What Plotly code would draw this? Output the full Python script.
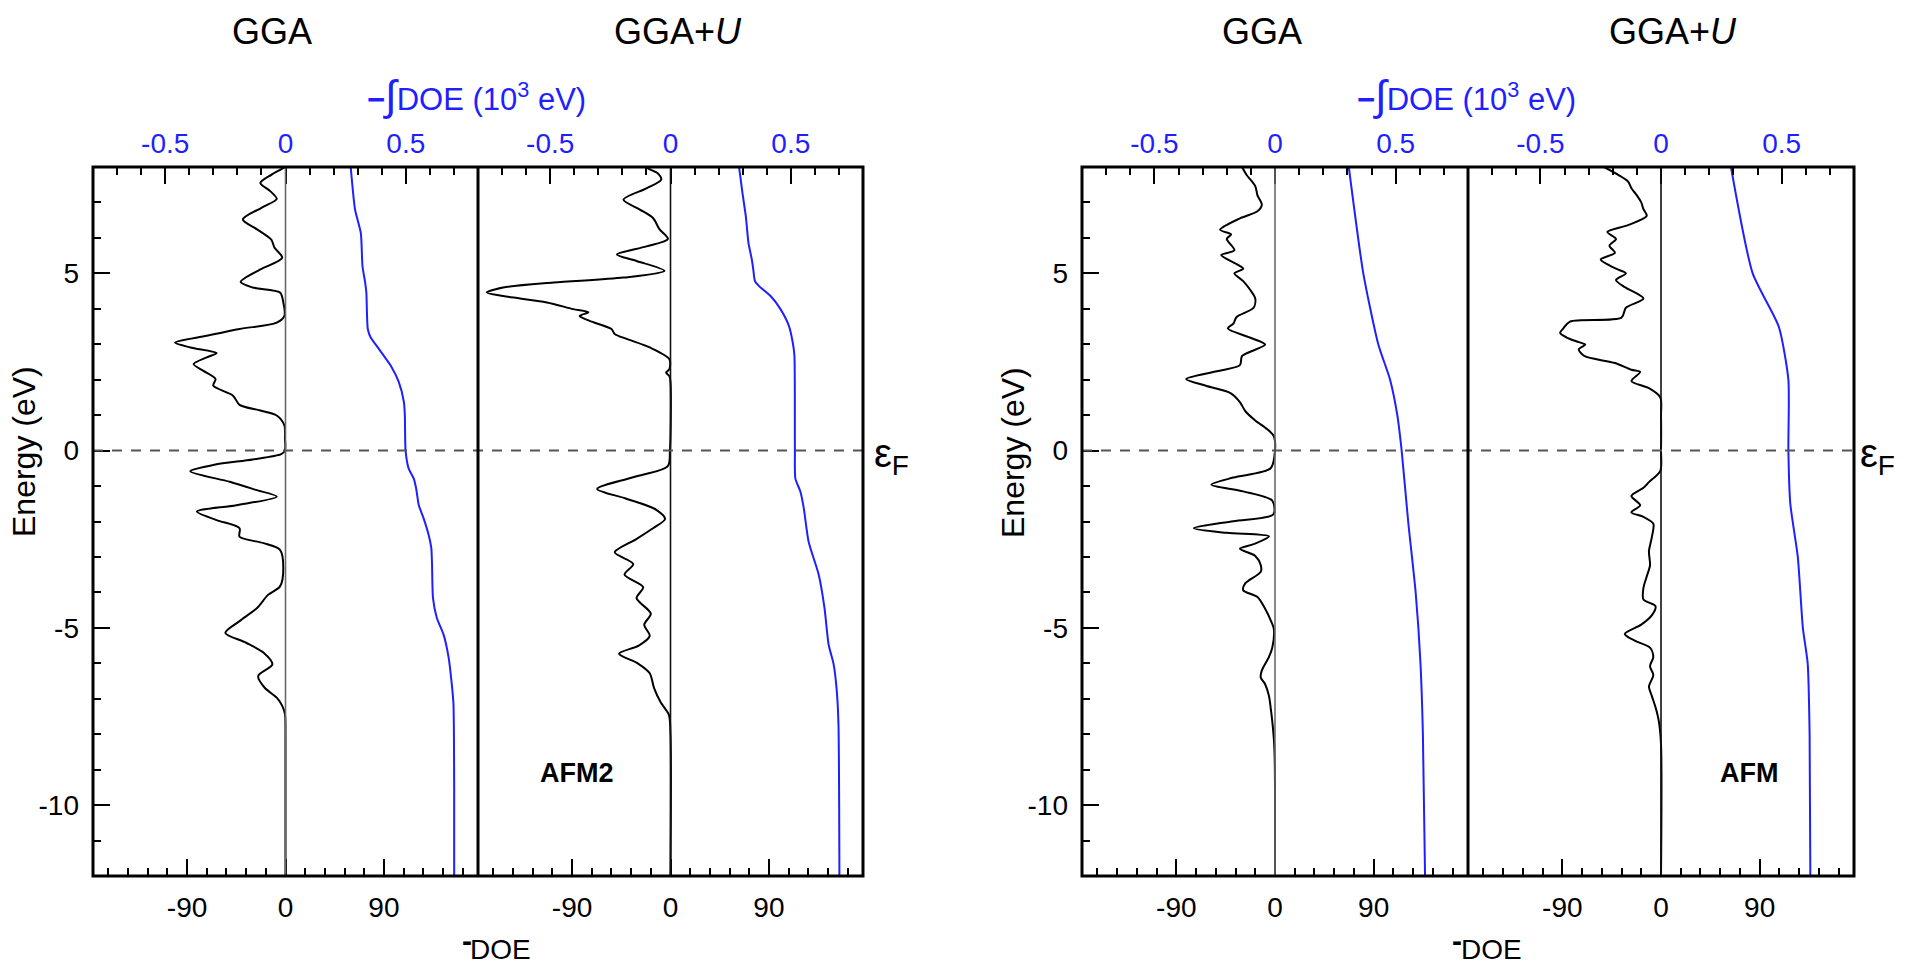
import plotly.graph_objects as go

# ---------------- data ----------------
# Group 1 (AFM2), GGA: -DOE vs energy
e_afm2_gga = [8.0, 7.97, 7.78, 7.55, 7.32, 7.1, 6.85, 6.52, 6.24, 5.95, 5.72, 5.44, 5.11, 4.76, 4.6, 4.46,
              4.18, 3.8, 3.61, 3.43, 3.24, 3.05, 2.91, 2.75, 2.63, 2.44, 2.25, 2.02, 1.83, 1.55, 1.29, 1.13,
              0.99, 0.71, 0.34, 0.0, -0.1, -0.25, -0.4, -0.58, -0.88, -1.1, -1.3, -1.54, -1.72, -1.96, -2.19,
              -2.43, -2.61, -2.8, -3.31, -3.83, -4.07, -4.44, -4.81, -5.14, -5.42, -5.7, -6.03, -6.36, -6.69,
              -6.97, -7.2, -7.43, -8.0, -12.0]
doe_afm2_gga = [-1, -2, -13, -23, -14, -8, -22, -39, -26, -13, -10, -3, -23, -41, -30, -5,
                -2, -1, -8, -42, -72, -101, -87, -63, -72, -84, -75, -64, -66, -48, -42, -23,
                -8, -1, -0.5, -0.5, -4, -30, -65, -87, -51, -28, -8, -45, -81, -63, -42,
                -42, -20, -5, -2, -5, -16, -26, -42, -55, -36, -20, -12, -25, -19,
                -8, -3, -0.5, 0, 0]

# Group 1 (AFM2), GGA+U
e_afm2_ggau = [8.0, 7.97, 7.83, 7.64, 7.4, 7.08, 6.8, 6.56, 6.24, 5.97, 5.76, 5.53, 5.35, 5.07, 4.88, 4.74,
               4.6, 4.46, 4.36, 4.18, 3.99, 3.9, 3.8, 3.66, 3.43, 3.29, 3.15, 2.91, 2.58, 2.3, 2.2, 2.1,
               1.93, 0.0, -0.44, -0.76, -1.08, -1.35, -1.67, -1.93, -2.19, -2.51, -2.87, -3.2, -3.5, -3.85,
               -4.16, -4.6, -4.91, -5.23, -5.5, -5.73, -6.0, -6.28, -6.7, -7.1, -7.45, -8.0, -12.0]
doe_afm2_ggau = [-21, -21, -12, -8.5, -22, -43, -28, -16, -10, -2.4, -22, -49, -31, -5.5, -43, -107,
                 -153, -168, -153, -113, -89, -75, -83, -74, -54, -51, -40, -19, -1, -1, -4, -1,
                 0, -0.5, -2.5, -35, -67, -41, -13, -5, -16, -32, -51, -34, -42, -25,
                 -31, -18, -24, -19, -29, -47, -30, -19, -15, -9, -1.5, 0, 0]

# Group 2 (AFM), GGA
e_afm_gga = [8.0, 7.78, 7.46, 7.2, 6.94, 6.75, 6.55, 6.23, 6.1, 5.97, 5.65, 5.52, 5.26, 5.13, 5.0, 4.78,
             4.55, 4.29, 4.03, 3.77, 3.58, 3.45, 3.19, 2.99, 2.67, 2.41, 2.24, 2.02, 1.83, 1.63, 1.37,
             1.11, 0.85, 0.6, 0.4, 0.0, -0.5, -0.76, -0.96, -1.15, -1.41, -1.8, -1.99, -2.19, -2.32,
             -2.42, -2.64, -2.77, -2.97, -3.23, -3.42, -3.74, -3.94, -4.13, -4.46, -4.78, -5.04, -5.56,
             -5.82, -6.2, -6.4, -6.59, -6.92, -7.24, -7.63, -8.15, -8.67, -9.5, -12.0]
doe_afm_gga = [-30, -26, -18, -16, -12, -16, -32, -50, -40, -44, -37, -49, -35, -29, -37, -29,
               -23, -18, -19.5, -35, -38, -43, -23, -9, -30, -32, -53, -81, -63, -41, -32,
               -27, -18, -7, -1, 0, -4, -38, -58, -29, -2.5, -1.5, -38, -74, -44,
               -5.5, -19.5, -32, -18, -13, -13, -27, -29, -16, -9, -4, -1, -2.5,
               -5.5, -12, -13, -9, -5.5, -4, -2.5, -1, -0.3, 0, 0]

# Group 2 (AFM), GGA+U
e_afm_ggau = [8.0, 7.78, 7.59, 7.4, 7.2, 7.0, 6.81, 6.62, 6.36, 6.17, 5.97, 5.78, 5.58, 5.39, 5.13, 5.0,
              4.81, 4.61, 4.29, 4.03, 3.75, 3.64, 3.45, 3.32, 3.19, 3.06, 2.99, 2.86, 2.67, 2.47, 2.28,
              2.22, 1.96, 1.76, 1.5, 1.0, 0.0, -0.57, -0.89, -1.05, -1.28, -1.54, -1.74, -1.87, -2.06,
              -2.45, -2.84, -3.23, -3.55, -3.87, -4.2, -4.39, -4.65, -4.91, -5.17, -5.36, -5.56, -5.82,
              -6.08, -6.33, -6.66, -6.92, -7.24, -7.63, -8.28, -12.0]
doe_afm_ggau = [-52, -39, -30, -27, -22, -18, -16, -13, -30, -49, -41, -47, -42, -55, -41, -32,
                -41, -33, -16, -32, -36, -83, -89, -92, -86, -75, -69, -75, -70, -42, -27,
                -19, -27, -11, -0.6, 0, 0, -0.6, -11, -16, -27, -19, -27, -16, -7,
                -8.4, -11, -10, -13, -16, -16, -5, -8.4, -18, -33, -24, -10, -7,
                -10, -7, -11, -8.4, -5, -2, 0, 0]

# Integrated curves, -∫DOE in 10^3 eV
ei_afm2_gga = [8.0, 6.8, 6.14, 5.2, 4.74, 4.46, 3.43, 3.19, 2.87, 2.4, 1.93, 1.37, 0.99, 0.0, -0.51,
               -0.79, -1.07, -1.54, -1.91, -2.38, -2.75, -3.22, -4.16, -4.72, -5.19, -5.84, -6.59,
               -7.15, -9.5, -12.0]
int_afm2_gga = [0.271, 0.289, 0.313, 0.32, 0.331, 0.336, 0.342, 0.354, 0.388, 0.437, 0.471, 0.492,
                0.496, 0.499, 0.512, 0.533, 0.543, 0.554, 0.574, 0.595, 0.606, 0.609, 0.613, 0.629,
                0.657, 0.678, 0.691, 0.698, 0.701, 0.701]

ei_afm2_ggau = [8.0, 7.27, 6.61, 5.86, 5.39, 5.11, 4.78, 4.64, 4.36, 3.99, 3.52, 3.05, 2.68, 0.0, -0.79,
                -1.16, -1.63, -2.57, -3.5, -4.44, -5.47, -6.03, -6.78, -7.71, -12.0]
int_afm2_ggau = [0.285, 0.299, 0.313, 0.324, 0.338, 0.344, 0.351, 0.368, 0.416, 0.457, 0.492, 0.508,
                 0.515, 0.517, 0.519, 0.54, 0.554, 0.574, 0.616, 0.64, 0.657, 0.678, 0.691, 0.698, 0.702]

ei_afm_gga = [8.0, 5.0, 3.0, 2.0, 1.0, 0.0, -2.0, -4.0, -6.0, -8.0, -12.0]
int_afm_gga = [0.306, 0.366, 0.428, 0.477, 0.507, 0.525, 0.552, 0.583, 0.603, 0.613, 0.622]

ei_afm_ggau = [8.0, 5.0, 3.5, 2.0, 0.0, -1.5, -3.0, -5.0, -6.0, -8.0, -12.0]
int_afm_ggau = [0.29, 0.38, 0.488, 0.528, 0.528, 0.536, 0.567, 0.588, 0.608, 0.616, 0.619]

doe_ticks = [-90, 0, 90]
int_ticks = [-0.5, 0, 0.5]
energy_ticks = [-10, -5, 0, 5]

# ---------------- layout geometry (pixels) ----------------
W, H = 1910, 965
FONT = "Liberation Sans, Arial, Helvetica, sans-serif"
BLUE = "#1f1fff"
TICK_SIZE = 28


def px(x):
    return x / W


def py(y):
    return 1 - y / H


TOP, BOT = 167, 876
panels = [(93, 478), (478, 863), (1082, 1468), (1468, 1854)]
zero_colors = ["#6a6a6a", "#111111", "#6a6a6a", "#111111"]

fig = go.Figure()
layout = dict(
    width=W, height=H, margin=dict(l=0, r=0, t=0, b=0),
    paper_bgcolor="white", plot_bgcolor="white", showlegend=False,
    font=dict(family=FONT, size=26, color="black"),
)

curves = [
    (e_afm2_gga, doe_afm2_gga, ei_afm2_gga, int_afm2_gga),
    (e_afm2_ggau, doe_afm2_ggau, ei_afm2_ggau, int_afm2_ggau),
    (e_afm_gga, doe_afm_gga, ei_afm_gga, int_afm_gga),
    (e_afm_ggau, doe_afm_ggau, ei_afm_ggau, int_afm_ggau),
]

for i, (x0, x1) in enumerate(panels):
    nb = 2 * i + 1          # bottom axis index
    nt = 2 * i + 2          # top axis index
    ya = "y" if i < 2 else "y2"
    bname = "xaxis" if nb == 1 else f"xaxis{nb}"
    tname = f"xaxis{nt}"
    bref = "x" if nb == 1 else f"x{nb}"
    tref = f"x{nt}"
    layout[bname] = dict(
        domain=[px(x0), px(x1)], anchor=ya, range=[-176, 176], side="bottom",
        tickmode="array", tickvals=doe_ticks, ticktext=[str(v) for v in doe_ticks],
        ticks="inside", ticklen=17, tickwidth=2.2, tickcolor="black",
        minor=dict(tick0=0, dtick=18, ticks="inside", ticklen=8, tickwidth=2, tickcolor="black"),
        showgrid=False, zeroline=False, showline=False,
        tickfont=dict(size=TICK_SIZE, color="black"), ticklabelstandoff=12, fixedrange=True,
    )
    layout[tname] = dict(
        domain=[px(x0), px(x1)], anchor=ya, overlaying=bref, range=[-0.8, 0.8], side="top",
        tickmode="array", tickvals=int_ticks, ticktext=["-0.5", "0", "0.5"],
        ticks="inside", ticklen=17, tickwidth=2.2, tickcolor="black",
        minor=dict(tick0=0, dtick=0.1, ticks="inside", ticklen=8, tickwidth=2, tickcolor="black"),
        showgrid=False, zeroline=False, showline=False,
        tickfont=dict(size=TICK_SIZE, color=BLUE), ticklabelstandoff=7, fixedrange=True,
    )
    e, d, ei, iv = curves[i]
    fig.add_trace(go.Scatter(x=d, y=e, xaxis=bref, yaxis=ya, mode="lines",
                             line=dict(color="black", width=2, shape="spline", smoothing=0.8),
                             hoverinfo="skip"))
    fig.add_trace(go.Scatter(x=iv, y=ei, xaxis=tref, yaxis=ya, mode="lines",
                             line=dict(color=BLUE, width=2, shape="spline", smoothing=0.6),
                             hoverinfo="skip"))

for yname, anchor in [("yaxis", "x"), ("yaxis2", "x5")]:
    layout[yname] = dict(
        domain=[py(BOT), py(TOP)], anchor=anchor, range=[-12, 8], side="left",
        tickmode="array", tickvals=energy_ticks, ticktext=[str(v) for v in energy_ticks],
        ticks="inside", ticklen=17, tickwidth=2.2, tickcolor="black",
        minor=dict(tick0=0, dtick=1, ticks="inside", ticklen=8, tickwidth=2, tickcolor="black"),
        showgrid=False, zeroline=False, showline=False,
        tickfont=dict(size=TICK_SIZE), ticklabelstandoff=13, fixedrange=True,
    )

shapes = []
# zero lines of each panel
for i, (x0, x1) in enumerate(panels):
    nb = 2 * i + 1
    bref = "x" if nb == 1 else f"x{nb}"
    shapes.append(dict(type="line", xref=bref, yref="paper", x0=0, x1=0, y0=py(BOT), y1=py(TOP),
                       line=dict(color=zero_colors[i], width=1.6), layer="above"))
# Fermi level dashed lines
for ya, xl, xr in [("y", 93, 868), ("y2", 1082, 1859)]:
    shapes.append(dict(type="line", xref="paper", yref=ya, x0=px(xl), x1=px(xr), y0=0, y1=0,
                       line=dict(color="#555555", width=2, dash="10px,9px"), layer="above"))
# frames and panel dividers
for xl, xm, xr in [(93, 478, 863), (1082, 1468, 1854)]:
    shapes.append(dict(type="rect", xref="paper", yref="paper", x0=px(xl), x1=px(xr),
                       y0=py(BOT), y1=py(TOP), line=dict(color="black", width=3), layer="above"))
    shapes.append(dict(type="line", xref="paper", yref="paper", x0=px(xm), x1=px(xm),
                       y0=py(BOT), y1=py(TOP), line=dict(color="black", width=3), layer="above"))
layout["shapes"] = shapes

ann = []


def text(x, y, s, size=26, color="black", **kw):
    d = dict(xref="paper", yref="paper", x=px(x), y=py(y), text=s, showarrow=False,
             font=dict(family=FONT, size=size, color=color), xanchor="center", yanchor="middle")
    d.update(kw)
    ann.append(d)


TOP_TITLE = ("<b>−</b><span style='font-size:42px'>∫</span>"
             "DOE (10<sup>3</sup> eV)")
for xc, s in [(272, "GGA"), (678, "GGA+<i>U</i>"), (1262, "GGA"), (1673, "GGA+<i>U</i>")]:
    text(xc, 31, s, size=36)
for xc in (476, 1466):
    text(xc, 95, TOP_TITLE, size=31, color=BLUE)
# bottom axis title: a raised minus sign followed by DOE
for xd, xm in [(500, 467), (1491, 1457)]:
    text(xd, 949, "DOE", size=28)
    text(xm, 940, "<b>-</b>", size=30)
for xc in (24, 1013):
    text(xc, 452, "Energy (eV)", size=32, textangle=-90)
for xl in (872, 1858):
    text(xl, 456, "ε<sub>F</sub>", size=40, xanchor="left")
text(577, 773, "<b>AFM2</b>", size=27)
text(1749, 773, "<b>AFM</b>", size=27)
layout["annotations"] = ann

fig.update_layout(**layout)
fig.write_html("out.html")
